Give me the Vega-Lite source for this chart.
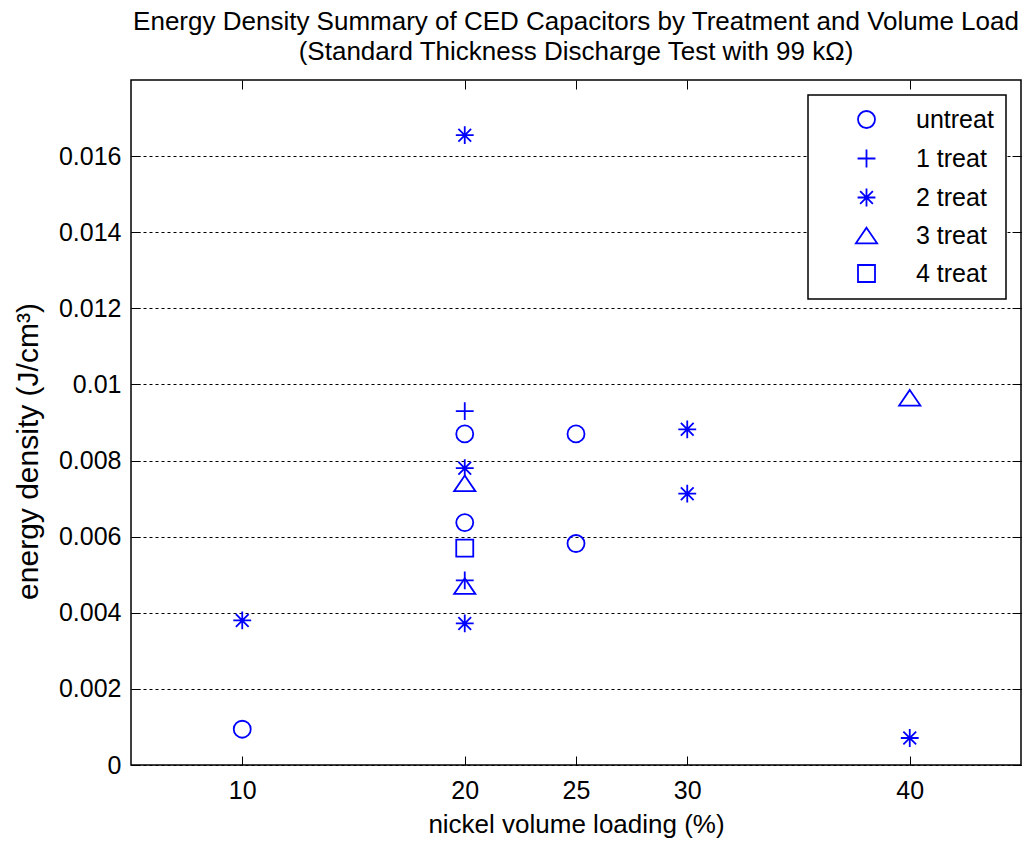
{
  "$schema": "https://vega.github.io/schema/vega-lite/v6.json",
  "width": 890,
  "height": 685,
  "autosize": "none",
  "padding": {"left": 131, "top": 80, "right": 13, "bottom": 77},
  "background": "white",
  "config": {
    "font": "Liberation Sans",
    "view": {"stroke": "black", "strokeWidth": 1.5},
    "axis": {"labelFont": "Liberation Sans", "titleFont": "Liberation Sans", "labelColor": "black", "titleColor": "black", "tickColor": "black", "titleFontWeight": "normal"},
    "legend": {"strokeWidth": 1.5}
  },
  "title": {
    "text": ["Energy Density Summary of CED Capacitors by Treatment and Volume Load", "(Standard Thickness Discharge Test with 99 kΩ)"],
    "fontSize": 26,
    "font": "Liberation Sans",
    "fontWeight": "normal",
    "color": "black",
    "lineHeight": 30,
    "anchor": "middle",
    "baseline": "alphabetic",
    "offset": 22,
    "dy": 28
  },
  "data": {
    "values": [
      {"loading": 10, "energy": 0.00094, "treatment": "untreat"},
      {"loading": 10, "energy": 0.00380, "treatment": "2 treat"},
      {"loading": 20, "energy": 0.01655, "treatment": "2 treat"},
      {"loading": 20, "energy": 0.00930, "treatment": "1 treat"},
      {"loading": 20, "energy": 0.00870, "treatment": "untreat"},
      {"loading": 20, "energy": 0.00780, "treatment": "2 treat"},
      {"loading": 20, "energy": 0.00740, "treatment": "3 treat"},
      {"loading": 20, "energy": 0.00637, "treatment": "untreat"},
      {"loading": 20, "energy": 0.00570, "treatment": "4 treat"},
      {"loading": 20, "energy": 0.00485, "treatment": "1 treat"},
      {"loading": 20, "energy": 0.00470, "treatment": "3 treat"},
      {"loading": 20, "energy": 0.00372, "treatment": "2 treat"},
      {"loading": 25, "energy": 0.00870, "treatment": "untreat"},
      {"loading": 25, "energy": 0.00582, "treatment": "untreat"},
      {"loading": 30, "energy": 0.00882, "treatment": "2 treat"},
      {"loading": 30, "energy": 0.00713, "treatment": "2 treat"},
      {"loading": 40, "energy": 0.00965, "treatment": "3 treat"},
      {"loading": 40, "energy": 0.00071, "treatment": "2 treat"}
    ]
  },
  "resolve": {"axis": {"x": "independent", "y": "independent"}},
  "layer": [
    {
      "mark": {"type": "point", "filled": false, "color": "#0000ff", "strokeWidth": 1.8, "size": 289, "opacity": 1},
      "encoding": {
        "x": {
          "field": "loading", "type": "quantitative",
          "scale": {"domain": [5, 45], "nice": false, "zero": false},
          "axis": {
            "values": [10, 20, 25, 30, 40],
            "title": "nickel volume loading (%)",
            "grid": false, "domain": false,
            "tickSize": -9, "tickWidth": 1,
            "labelFontSize": 25, "labelBaseline": "alphabetic", "labelPadding": 42,
            "titleFontSize": 26, "titleX": 445, "titleY": 67, "titleBaseline": "alphabetic"
          }
        },
        "y": {
          "field": "energy", "type": "quantitative",
          "scale": {"domain": [0, 0.018], "nice": false, "zero": false},
          "axis": {
            "values": [0, 0.002, 0.004, 0.006, 0.008, 0.01, 0.012, 0.014, 0.016],
            "format": "~g",
            "grid": true, "gridColor": "black", "gridDash": [3, 3], "gridWidth": 1, "gridOpacity": 1,
            "domain": false,
            "tickSize": -9, "tickWidth": 1,
            "labelFontSize": 25, "labelPadding": 19,
            "title": "energy density (J/cm³)",
            "titleFontSize": 30, "titleAngle": 270, "titleX": -94, "titleY": 371, "titleBaseline": "alphabetic", "titleAlign": "center"
          }
        },
        "shape": {
          "field": "treatment", "type": "nominal",
          "scale": {
            "domain": ["untreat", "1 treat", "2 treat", "3 treat", "4 treat"],
            "range": [
              "circle",
              "M-1.05,0H1.05M0,-1.05V1.05",
              "M-1.05,0H1.05M0,-1.05V1.05M-0.75,-0.75L0.75,0.75M-0.75,0.75L0.75,-0.75",
              "M0,-0.92L1.25,0.92L-1.25,0.92Z",
              "square"
            ]
          },
          "legend": {
            "title": null,
            "orient": "none",
            "legendX": 677,
            "legendY": 15,
            "strokeColor": "black",
            "fillColor": "white",
            "padding": 12,
            "cornerRadius": 0,
            "symbolOffset": 34,
            "labelOffset": 37,
            "labelFontSize": 25,
            "labelFont": "Liberation Sans",
            "labelColor": "black",
            "rowPadding": 12,
            "symbolSize": 289,
            "symbolStrokeColor": "#0000ff",
            "symbolStrokeWidth": 1.8,
            "symbolFillColor": "transparent"
          }
        }
      }
    },
    {
      "mark": {"type": "point", "opacity": 0},
      "encoding": {
        "x": {
          "field": "loading", "type": "quantitative",
          "axis": {"orient": "top", "values": [10, 20, 25, 30, 40], "labels": false, "title": null, "grid": false, "domain": false, "tickSize": -9, "tickWidth": 1}
        },
        "y": {
          "field": "energy", "type": "quantitative",
          "axis": {"orient": "right", "values": [0, 0.002, 0.004, 0.006, 0.008, 0.01, 0.012, 0.014, 0.016], "labels": false, "title": null, "grid": false, "domain": false, "tickSize": -9, "tickWidth": 1}
        }
      }
    }
  ]
}
